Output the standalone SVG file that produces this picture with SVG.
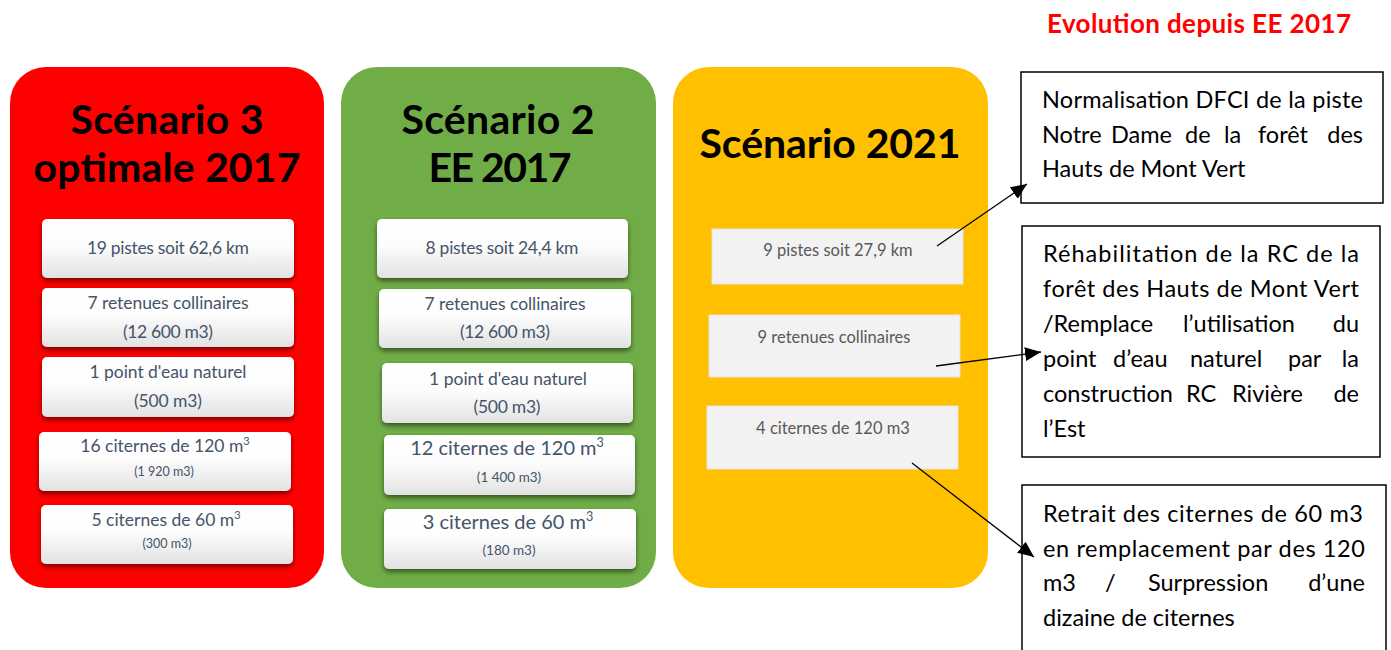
<svg xmlns="http://www.w3.org/2000/svg" width="1391" height="650" viewBox="0 0 1391 650">
<defs>
  <linearGradient id="card" x1="0" y1="0" x2="0" y2="1">
    <stop offset="0" stop-color="#ffffff"/>
    <stop offset="0.45" stop-color="#fdfdfd"/>
    <stop offset="1" stop-color="#e2e2e2"/>
  </linearGradient>
  <filter id="sh" x="-10%" y="-20%" width="120%" height="150%">
    <feDropShadow dx="0" dy="3" stdDeviation="2.5" flood-color="#000" flood-opacity="0.5"/>
  </filter>
  <marker id="ah" markerUnits="userSpaceOnUse" markerWidth="18" markerHeight="14" refX="16" refY="7" orient="auto">
    <path d="M0,0 L16,7 L0,14 z" fill="#000"/>
  </marker>
  <style>
    .title{font-family:Lato,"Liberation Sans",sans-serif;font-weight:bold;font-size:41px;fill:#000;text-anchor:middle}
    .card{fill:url(#card);filter:url(#sh)}
    .ct{font-family:Lato,"Liberation Sans",sans-serif;font-size:17.5px;fill:#44546a;text-anchor:middle}
    .big{font-size:20px}
    .cs{font-family:Lato,"Liberation Sans",sans-serif;font-size:12.5px;fill:#44546a;text-anchor:middle}
    .cs2{font-size:13.5px}
    .sup{font-size:11px}
    .sup2{font-size:12.5px}
    .ybox{fill:#f2f2f2;stroke:#e4e4e4;stroke-width:1}
    .yt{font-family:Lato,"Liberation Sans",sans-serif;font-size:16.5px;fill:#595959;text-anchor:middle}
    .note{fill:#fff;stroke:#000;stroke-width:1.5}
    .nt{font-family:Lato,"Liberation Sans",sans-serif;font-size:23.5px;fill:#000}
    .conn{stroke:#000;stroke-width:1.3;fill:none;marker-end:url(#ah)}
  </style>
</defs>
<rect width="1391" height="650" fill="#fff"/>

<text x="1199" y="33" font-family="Lato,'Liberation Sans',sans-serif" font-weight="bold" font-size="26" fill="#ff0000" text-anchor="middle" textLength="304">Evolution depuis EE 2017</text>

<g id="scenario3">
  <rect x="10" y="67" width="314" height="521" rx="36" fill="#ff0000"/>
  <text class="title" x="167" y="134" textLength="193">Scénario 3</text>
  <text class="title" x="167" y="182" textLength="267">optimale 2017</text>
  <g id="s3-pistes"><rect class="card" x="42" y="219" width="252" height="59" rx="5"/>
    <text class="ct" x="168" y="254" textLength="162">19 pistes soit 62,6 km</text></g>
  <g id="s3-retenues"><rect class="card" x="42" y="288" width="252" height="59" rx="5"/>
    <text class="ct" x="168" y="309" textLength="161">7 retenues collinaires</text>
    <text class="ct" x="168" y="338" textLength="90">(12 600 m3)</text></g>
  <g id="s3-point"><rect class="card" x="42" y="357" width="252" height="60" rx="5"/>
    <text class="ct" x="168" y="378" textLength="157">1 point d'eau naturel</text>
    <text class="ct" x="168" y="407" textLength="68">(500 m3)</text></g>
  <g id="s3-c120"><rect class="card" x="39" y="432" width="252" height="59" rx="5"/>
    <text class="ct" x="165" y="452">16 citernes de 120 m<tspan class="sup" dy="-7">3</tspan></text>
    <text class="cs" x="164" y="476">(1 920 m3)</text></g>
  <g id="s3-c60"><rect class="card" x="41" y="505" width="252" height="59" rx="5"/>
    <text class="ct" x="166" y="526">5 citernes de 60 m<tspan class="sup" dy="-7">3</tspan></text>
    <text class="cs" x="167" y="548">(300 m3)</text></g>
</g>

<g id="scenario2">
  <rect x="341" y="67" width="315" height="521" rx="36" fill="#70ad47"/>
  <text class="title" x="498" y="134" textLength="193">Scénario 2</text>
  <text class="title" x="500" y="182" textLength="143">EE 2017</text>
  <g id="s2-pistes"><rect class="card" x="377" y="219" width="251" height="59" rx="5"/>
    <text class="ct" x="502" y="254" textLength="153">8 pistes soit 24,4 km</text></g>
  <g id="s2-retenues"><rect class="card" x="379" y="289" width="252" height="59" rx="5"/>
    <text class="ct" x="505" y="310" textLength="161">7 retenues collinaires</text>
    <text class="ct" x="505" y="338" textLength="90">(12 600 m3)</text></g>
  <g id="s2-point"><rect class="card" x="382" y="363" width="251" height="60" rx="5"/>
    <text class="ct" x="508" y="385" textLength="158">1 point d'eau naturel</text>
    <text class="ct" x="507" y="413" textLength="67">(500 m3)</text></g>
  <g id="s2-c120"><rect class="card" x="384" y="435" width="251" height="60" rx="5"/>
    <text class="ct big" x="507" y="455">12 citernes de 120 m<tspan class="sup2" dy="-8">3</tspan></text>
    <text class="cs cs2" x="509" y="482">(1 400 m3)</text></g>
  <g id="s2-c60"><rect class="card" x="384" y="509" width="252" height="60" rx="5"/>
    <text class="ct big" x="508" y="529">3 citernes de 60 m<tspan class="sup2" dy="-8">3</tspan></text>
    <text class="cs cs2" x="509" y="555">(180 m3)</text></g>
</g>

<g id="scenario2021">
  <rect x="673" y="67" width="315" height="521" rx="36" fill="#ffc000"/>
  <text class="title" x="830" y="158" textLength="261">Scénario 2021</text>
  <g id="y-pistes"><rect class="ybox" x="712" y="229" width="251" height="55"/>
    <text class="yt" x="838" y="256">9 pistes soit 27,9 km</text></g>
  <g id="y-retenues"><rect class="ybox" x="709" y="315" width="251" height="62"/>
    <text class="yt" x="834" y="343">9 retenues collinaires</text></g>
  <g id="y-citernes"><rect class="ybox" x="707" y="406" width="251" height="63"/>
    <text class="yt" x="833" y="434">4 citernes de 120 m3</text></g>
</g>

<g id="note-dfci">
  <rect class="note" x="1021" y="72" width="362" height="131"/>
  <text class="nt" x="1042" y="108" textLength="321">Normalisation DFCI de la piste</text>
  <text class="nt" x="1042" y="143">Notre</text>
  <text class="nt" x="1111" y="143">Dame</text>
  <text class="nt" x="1185" y="143">de</text>
  <text class="nt" x="1224" y="143">la</text>
  <text class="nt" x="1258" y="143">forêt</text>
  <text class="nt" x="1363" y="143" text-anchor="end">des</text>
  <text class="nt" x="1042" y="177">Hauts de Mont Vert</text>
</g>

<g id="note-rc">
  <rect class="note" x="1022" y="226" width="358" height="231"/>
  <text class="nt" x="1043" y="262" textLength="316">Réhabilitation de la RC de la</text>
  <text class="nt" x="1043" y="297" textLength="316">forêt des Hauts de Mont Vert</text>
  <text class="nt" x="1043" y="332">/Remplace</text>
  <text class="nt" x="1183" y="332">l’utilisation</text>
  <text class="nt" x="1359" y="332" text-anchor="end">du</text>
  <text class="nt" x="1043" y="367">point</text>
  <text class="nt" x="1113" y="367">d’eau</text>
  <text class="nt" x="1190" y="367">naturel</text>
  <text class="nt" x="1288" y="367">par</text>
  <text class="nt" x="1359" y="367" text-anchor="end">la</text>
  <text class="nt" x="1043" y="402">construction</text>
  <text class="nt" x="1186" y="402">RC</text>
  <text class="nt" x="1232" y="402">Rivière</text>
  <text class="nt" x="1359" y="402" text-anchor="end">de</text>
  <text class="nt" x="1043" y="437">l’Est</text>
</g>

<g id="note-citernes">
  <rect class="note" x="1022" y="485" width="364" height="180"/>
  <text class="nt" x="1043" y="522" textLength="320">Retrait des citernes de 60 m3</text>
  <text class="nt" x="1043" y="557" textLength="322">en remplacement par des 120</text>
  <text class="nt" x="1043" y="591">m3</text>
  <text class="nt" x="1105" y="591">/</text>
  <text class="nt" x="1148" y="591">Surpression</text>
  <text class="nt" x="1365" y="591" text-anchor="end">d’une</text>
  <text class="nt" x="1043" y="626">dizaine de citernes</text>
</g>

<g id="connectors">
  <line class="conn" x1="937" y1="246" x2="1027" y2="184"/>
  <line class="conn" x1="936" y1="366" x2="1041" y2="352"/>
  <line class="conn" x1="912" y1="463" x2="1034" y2="557"/>
</g>
</svg>
